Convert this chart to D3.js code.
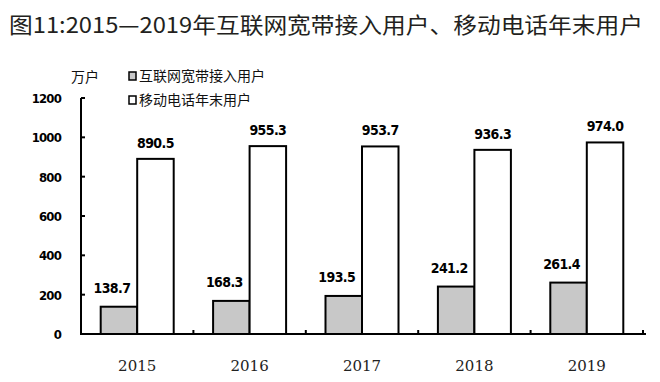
<!DOCTYPE html>
<meta charset="utf-8">
<style>
 body { margin: 0; background: #fff; }
 .title { font: 22px "Noto Sans CJK SC", sans-serif; fill: #231f20; }
 .legend text, .unit { font: 14px "Noto Sans CJK SC", sans-serif; fill: #111; }
 .ytick { font: bold 13px "DejaVu Sans Condensed", sans-serif; letter-spacing: -0.8px; }
 .xtick { font: 15px "DejaVu Serif", serif; fill: #222; }
 .vlabel { font: bold 14px "DejaVu Sans Condensed", sans-serif; letter-spacing: -0.6px; }
 .bar { stroke: #000; stroke-width: 2px; }
</style>
<svg class="chart"></svg>
<script src="https://cdn.jsdelivr.net/npm/d3@7"></script>
<script>
 var years = ["2015", "2016", "2017", "2018", "2019"];
 var broadband = [138.7, 168.3, 193.5, 241.2, 261.4];
 var mobile = [890.5, 955.3, 953.7, 936.3, 974.0];
 var seriesNames = ["互联网宽带接入用户", "移动电话年末用户"];
 var seriesColors = ["#c8c8c8", "#ffffff"];
 var yTicks = [0, 200, 400, 600, 800, 1000, 1200];

 var width = 660, height = 382;
 var svg = d3.select(".chart").attr("width", width).attr("height", height);

 var x = d3.scaleBand().domain(years).range([81, 643]);
 var y = d3.scaleLinear().domain([0, 1200]).range([334, 98]);
 var barW = 36.5;

 svg.append("text").attr("class", "title")
     .attr("x", 9).attr("y", 33)
     .attr("textLength", 634).attr("lengthAdjust", "spacingAndGlyphs")
     .text("图11:2015—2019年互联网宽带接入用户、移动电话年末用户");

 svg.append("text").attr("class", "unit").attr("x", 71).attr("y", 82).text("万户");

 var legend = svg.append("g").attr("class", "legend");
 seriesNames.forEach(function(name, i) {
     var ly = 76 + i * 24;
     legend.append("rect").attr("x", 129).attr("y", ly - 4).attr("width", 7).attr("height", 8)
         .attr("fill", seriesColors[i]).attr("stroke", "#000").attr("stroke-width", 1.5);
     legend.append("text").attr("x", 139).attr("y", ly + 5).text(name);
 });

 // y axis
 svg.append("line").attr("x1", 81).attr("x2", 81).attr("y1", y(1200)).attr("y2", y(0))
     .attr("stroke", "#000").attr("stroke-width", 2);
 yTicks.forEach(function(t) {
     svg.append("line").attr("x1", 81).attr("x2", 85).attr("y1", y(t)).attr("y2", y(t))
         .attr("stroke", "#000").attr("stroke-width", 2);
     svg.append("text").attr("class", "ytick").attr("x", 61).attr("y", y(t) + 5)
         .attr("text-anchor", "end").text(t);
 });

 var groups = svg.selectAll(".yr").data(years).enter().append("g")
     .attr("transform", function(d) { return "translate(" + (x(d) + x.bandwidth() / 2) + ",0)"; });

 groups.append("rect").attr("class", "bar")
     .attr("x", -barW).attr("width", barW)
     .attr("y", function(d, i) { return y(broadband[i]); })
     .attr("height", function(d, i) { return y(0) - y(broadband[i]); })
     .attr("fill", seriesColors[0]);
 groups.append("rect").attr("class", "bar")
     .attr("x", 0).attr("width", barW)
     .attr("y", function(d, i) { return y(mobile[i]); })
     .attr("height", function(d, i) { return y(0) - y(mobile[i]); })
     .attr("fill", seriesColors[1]);

 groups.append("text").attr("class", "vlabel").attr("text-anchor", "middle")
     .attr("x", -barW / 2 - 7)
     .attr("y", function(d, i) { return y(broadband[i]) - 14; })
     .text(function(d, i) { return broadband[i].toFixed(1); });
 groups.append("text").attr("class", "vlabel").attr("text-anchor", "middle")
     .attr("x", barW / 2)
     .attr("y", function(d, i) { return y(mobile[i]) - 11; })
     .text(function(d, i) { return mobile[i].toFixed(1); });

 groups.append("text").attr("class", "xtick").attr("text-anchor", "middle")
     .attr("x", 0).attr("y", 371).text(function(d) { return d; });

 // x axis
 svg.append("line").attr("x1", 80).attr("x2", 646).attr("y1", y(0)).attr("y2", y(0))
     .attr("stroke", "#000").attr("stroke-width", 2);
 years.forEach(function(d) {
     var bx = x(d) + x.bandwidth();
     svg.append("line").attr("x1", bx).attr("x2", bx).attr("y1", y(0)).attr("y2", y(0) - 4)
         .attr("stroke", "#000").attr("stroke-width", 2);
 });
</script>
